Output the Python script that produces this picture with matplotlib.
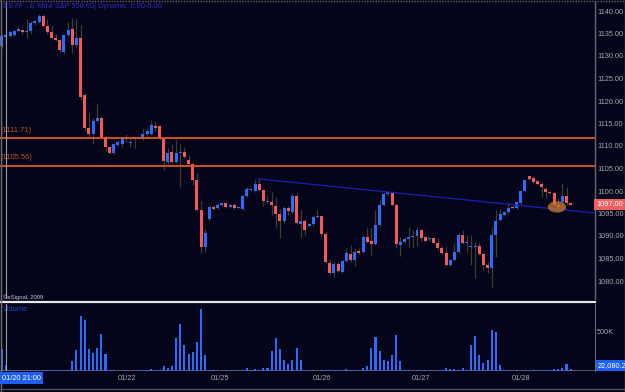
import matplotlib
matplotlib.use("Agg")
import matplotlib.pyplot as plt
from matplotlib.patches import Ellipse
from matplotlib.lines import Line2D
import matplotlib.transforms as mtransforms
import numpy as np

# ---------------- data ----------------
opens = [1132.25, 1134.25, 1134.5, 1134.75, 1135.5, 1135.75, 1135.25, 1135.5, 1137.25, 1137.5,
         1139, 1136.75, 1135.25, 1134, 1133.5, 1131, 1134.75, 1136, 1132.5, 1134,
         1121.25, 1114, 1112.75, 1115.5, 1116.25, 1112, 1109.75, 1108.5, 1110.25, 1110.5,
         1111.5, 1110.75, 1111.5, 1112, 1111.5, 1112.75, 1112.75, 1114.5, 1114.5, 1111.5,
         1106.5, 1108.75, 1106.5, 1108.5, 1108.75, 1107, 1106, 1102.5, 1095.75, 1087.5,
         1093.75, 1096.5, 1096.25, 1097, 1097.25, 1096.5, 1097, 1096.25, 1096, 1099,
         1100.25, 1100, 1101.5, 1100.25, 1097.5, 1097.5, 1096.75, 1095, 1093.25, 1096.25,
         1095.25, 1099, 1092.75, 1093.25, 1092.25, 1092.75, 1094.25, 1094.5, 1090.5, 1084,
         1081.75, 1083.75, 1082, 1084.5, 1086, 1084.75, 1086.75, 1086.5, 1089.75, 1089,
         1088.25, 1092.5, 1097, 1099.25, 1099.75, 1097, 1088, 1088.75, 1089.25, 1089.75,
         1090, 1091.25, 1089.75, 1089.25, 1089.5, 1088.5, 1087.25, 1086.25, 1083.5, 1084.75,
         1086.5, 1090.25, 1088.5, 1087.5, 1087.5, 1087.75, 1086, 1083.5, 1083, 1090.25,
         1093.5, 1094.75, 1095.25, 1096.5, 1096.25, 1097.25, 1100, 1103.25, 1103, 1102.25,
         1101.5, 1100.5, 1099.75, 1099.5, 1097, 1097.5, 1099, 1097.25]
highs = [1135, 1135, 1135.5, 1135.75, 1136.75, 1136, 1138.25, 1137.75, 1138, 1139.25,
         1139.25, 1138.25, 1137, 1135, 1133.75, 1135, 1137.5, 1138.5, 1138.25, 1137,
         1121.75, 1117.5, 1116.25, 1119.25, 1116.75, 1112.5, 1110, 1110.75, 1111.25, 1112.25,
         1112.75, 1111.75, 1112, 1112.25, 1114, 1114, 1115.5, 1115.5, 1114.75, 1111.75,
         1109.5, 1110.5, 1111.25, 1110.5, 1109.75, 1108, 1106.5, 1104, 1097.75, 1091.5,
         1096.75, 1097, 1097.25, 1097.5, 1097.5, 1097.25, 1097.25, 1096.75, 1099.25, 1101,
         1100.75, 1102.5, 1102.75, 1100.5, 1099, 1099.75, 1098.75, 1096, 1096.75, 1096.75,
         1099.5, 1099.5, 1095.75, 1093.75, 1093, 1094.75, 1095.75, 1094.75, 1091, 1085,
         1084.25, 1084.25, 1084.75, 1087.25, 1088, 1087.25, 1087.25, 1090.25, 1091.75, 1091.75,
         1095.75, 1098, 1099.75, 1100, 1100, 1097.25, 1089.75, 1089.75, 1092, 1091.25,
         1092, 1091.5, 1090, 1089.75, 1089.75, 1089.5, 1087.75, 1087.5, 1085, 1088.25,
         1090.75, 1091.25, 1090.25, 1090.25, 1088.75, 1088.5, 1086.5, 1084.25, 1091.75, 1095.75,
         1096, 1095.5, 1097.5, 1096.75, 1097.75, 1100.25, 1102.75, 1103.5, 1103.25, 1102.5,
         1102, 1101, 1100, 1100, 1098.5, 1101.75, 1101, 1097.25]
lows = [1131.75, 1134, 1134.25, 1134.5, 1135.25, 1135, 1134, 1135, 1137, 1137.25,
        1136.5, 1135, 1133.75, 1133.25, 1131, 1130.75, 1134.25, 1130.75, 1132, 1120.25,
        1113.25, 1111.75, 1110.5, 1115.25, 1111.75, 1109, 1108.25, 1108.25, 1110, 1109.75,
        1111, 1109.75, 1109.5, 1111.5, 1111.25, 1112, 1112.5, 1113.25, 1111.25, 1104.75,
        1106, 1106, 1106.25, 1101, 1107.25, 1105.75, 1101.25, 1095.5, 1086.25, 1086.5,
        1093.25, 1095.75, 1096, 1096.75, 1096.25, 1096.25, 1096, 1096, 1095.75, 1098.75,
        1100, 1099.75, 1100, 1096.75, 1097.25, 1094.75, 1091.75, 1089.5, 1093, 1094.75,
        1095, 1092.75, 1089.75, 1090.25, 1092, 1092.25, 1094, 1089.75, 1084, 1081.5,
        1081, 1082, 1081.75, 1084.25, 1084.25, 1083.25, 1086, 1086.25, 1088.5, 1085.75,
        1088, 1092.25, 1096.75, 1099, 1096.75, 1087.25, 1085.5, 1088.5, 1087.5, 1087.25,
        1087.75, 1089, 1088.75, 1089, 1088.25, 1087, 1086, 1083.25, 1083.25, 1084.5,
        1086.25, 1088.25, 1086.5, 1083.5, 1080.75, 1085.75, 1082.5, 1081.75, 1078.5, 1085.25,
        1093.25, 1094.5, 1095, 1096, 1096, 1097, 1099.75, 1102.5, 1101.75, 1101.25,
        1098.75, 1098.5, 1099.25, 1096.75, 1095.5, 1095.75, 1097, 1097]
closes = [1134.5, 1134.75, 1135.25, 1135.5, 1136, 1135.25, 1135.5, 1137.25, 1137.75, 1139,
          1136.75, 1135.25, 1134, 1133.5, 1131.25, 1134.75, 1135.75, 1132.5, 1134, 1121,
          1114, 1112.75, 1115.5, 1116.25, 1112, 1109.75, 1108.5, 1110.5, 1111, 1111.75,
          1111.5, 1110.75, 1112, 1111.75, 1112.75, 1113.25, 1114.75, 1114, 1111.5, 1106.75,
          1108.5, 1106.5, 1108.5, 1108.75, 1107.5, 1106, 1102.5, 1095.75, 1087.5, 1090.75,
          1096.5, 1096, 1097, 1097.25, 1096.5, 1097, 1096.25, 1096.5, 1099, 1100.5,
          1100.5, 1101.5, 1100.25, 1097.75, 1097.75, 1097, 1095, 1093.25, 1096.25, 1095.5,
          1099, 1093, 1093.25, 1091.25, 1092.75, 1094.25, 1094.5, 1090.5, 1084.25, 1081.75,
          1083.75, 1082.25, 1084.5, 1086.25, 1084.75, 1086.5, 1086.25, 1089.75, 1088.75, 1088.25,
          1092.5, 1097, 1099.25, 1099.75, 1097, 1088.25, 1088.75, 1089.25, 1089.75, 1090,
          1091.25, 1089.5, 1089, 1089.5, 1088.5, 1087.25, 1086.25, 1083.5, 1084.75, 1086.5,
          1090.25, 1088.5, 1088.75, 1087.75, 1087.75, 1086, 1083.5, 1083, 1090.25, 1093.25,
          1095, 1095.25, 1096.25, 1096.25, 1097.5, 1100, 1102.5, 1102.75, 1102, 1101.5,
          1101, 1099.75, 1099.5, 1097, 1096.5, 1099, 1097.25, 1097]
volumes = [278000, 73000, 9000, 7000, 8000, 6000, 10000, 8000, 7000, 9000,
           8000, 12000, 15000, 18000, 17000, 16000, 19000, 124000, 273000, 709000,
           649000, 278000, 235000, 295000, 478000, 214000, 8000, 10000, 5000, 6000,
           7000, 5000, 6000, 8000, 9000, 7000, 30000, 17000, 9000, 60000,
           43000, 60000, 423000, 598000, 329000, 214000, 243000, 371000, 798000, 200000,
           17000, 8000, 6000, 5000, 7000, 6000, 8000, 7000, 9000, 43000,
           17000, 21000, 9000, 38000, 38000, 252000, 427000, 278000, 137000, 85000,
           137000, 295000, 145000, 8000, 6000, 7000, 5000, 9000, 17000, 8000,
           7000, 9000, 8000, 30000, 17000, 15000, 9000, 34000, 68000, 299000,
           431000, 252000, 137000, 124000, 200000, 457000, 124000, 9000, 7000, 6000,
           8000, 5000, 7000, 9000, 6000, 8000, 7000, 38000, 21000, 21000,
           9000, 34000, 9000, 329000, 444000, 200000, 107000, 137000, 530000, 495000,
           73000, 9000, 7000, 6000, 8000, 6000, 7000, 5000, 8000, 9000,
           17000, 17000, 9000, 30000, 26000, 43000, 85000, 22080]

title_text = "ES #F - E-MINI S&P 500,60| Dynamic ,0:00-0:00"
price_ticks = [1080, 1085, 1090, 1095, 1100, 1105, 1110, 1115, 1120, 1125, 1130, 1135, 1140]
level_lines = [1111.71, 1105.56]
date_labels = ["01/22", "01/25", "01/26", "01/27", "01/28"]
date_label_bars = [31.2, 53.6, 78.1, 101.9, 126.0]
cursor_bar = 2
cursor_label = "01/20 21:00"
trend_bars = [62.7, 143.9]
trend_prices = [1102.7, 1095.1]
highlight_bar = 134.7
highlight_price = 1096.45
last_price = closes[-1]
last_volume_label = "22,080.2"

# ---------------- style ----------------
W, H = 625, 392
BG = "#04041a"
UP = "#2e6cf8"
DN = "#f25a5a"
WICK = "#403c2e"
GRID_TXT = "#a8a8a8"
FONT = ["Liberation Sans", "DejaVu Sans"]
plt.rcParams["font.family"] = FONT

fig = plt.figure(figsize=(W / 100, H / 100), dpi=100, facecolor=BG)

def fx(px):
    return px / W

def fy(py):
    return 1 - py / H

n = len(opens)
idx = np.arange(1, n + 1)
o = np.array(opens); c = np.array(closes); hi = np.array(highs); lo = np.array(lows)
up = c >= o

x_left = 1 + (0 - 1.7) / 4.153
x_right = 1 + (595 - 1.7) / 4.153

# price axes
axp = fig.add_axes([0, fy(299), fx(595), (299 - 2) / H], facecolor=BG)
axp.set_xlim(x_left, x_right)
axp.set_ylim(1140 - (299 - 11) / 4.5, 1140 + (11 - 2) / 4.5)

axp.vlines(idx, lo, hi, color=WICK, lw=0.9, zorder=2)
bottoms = np.minimum(o, c)
heights = np.maximum(np.abs(c - o), 0.22)
colors = [UP if u else DN for u in up]
axp.bar(idx, heights, bottom=bottoms, width=0.72, color=colors, linewidth=0, zorder=3)

for lv in level_lines:
    axp.axhline(lv, color="#e2561e", lw=1.3, zorder=4)
    axp.text(0.6, lv + 1.0, "(%.2f)" % lv, color="#b8561e", fontsize=5.4, va="bottom", ha="left")

axp.plot(trend_bars, trend_prices, color="#1c1ca8", lw=1.0, zorder=4)
axp.add_patch(Ellipse((highlight_bar, highlight_price), 4.4, 2.5, facecolor="#c87a30",
                      edgecolor="none", alpha=0.75, zorder=5))

axp.yaxis.tick_right()
axp.set_yticks(price_ticks)
axp.set_yticklabels(["%.2f" % t for t in price_ticks])
axp.tick_params(axis="y", length=0, pad=1.5, labelsize=5.3, labelcolor=GRID_TXT)
axp.set_xticks([])
for s in ["top", "left", "bottom"]:
    axp.spines[s].set_visible(False)
axp.spines["right"].set_color("#6a6a6a")
axp.spines["right"].set_linewidth(1)

axp.axvline(cursor_bar, color="#a0a0a0", lw=0.8, zorder=6)

tr = mtransforms.blended_transform_factory(axp.transAxes, axp.transData)
axp.text(1.002, last_price, "%.2f" % last_price, transform=tr, fontsize=5.3, color="#ffffff",
         va="center", ha="left",
         bbox=dict(boxstyle="square,pad=0.25", facecolor="#f06060", edgecolor="none"))

# volume axes
axv = fig.add_axes([0, fy(371), fx(595), (371 - 304) / H], facecolor=BG)
axv.set_xlim(x_left, x_right)
axv.set_ylim(0, (371 - 304) / 39 * 500000)
axv.bar(idx, volumes, width=0.5, color=UP, linewidth=0, zorder=3)
axv.axhline(0, color="#6a6a6a", lw=1.2, zorder=2)
axv.axvline(cursor_bar, color="#a0a0a0", lw=0.8, zorder=6)
axv.yaxis.tick_right()
axv.set_yticks([500000])
axv.set_yticklabels(["500K"])
axv.tick_params(axis="y", length=0, pad=1.5, labelsize=5.3, labelcolor=GRID_TXT)
axv.set_xticks(date_label_bars)
axv.set_xticklabels(date_labels)
axv.tick_params(axis="x", length=0, pad=3, labelsize=5.3, labelcolor=GRID_TXT)
for s in ["top", "left", "bottom"]:
    axv.spines[s].set_visible(False)
axv.spines["right"].set_color("#6a6a6a")
axv.text(0.005, 0.97, "Volume", transform=axv.transAxes, color="#2448c0", fontsize=5.4,
         va="top", ha="left")
trv = mtransforms.blended_transform_factory(axv.transAxes, axv.transData)
axv.text(1.004, volumes[-1], last_volume_label, transform=trv, fontsize=5.3, color="#ffffff",
         va="bottom", ha="left", clip_on=False,
         bbox=dict(boxstyle="square,pad=0.25", facecolor="#1f5ff0", edgecolor="none"))

# figure-level decorations
fig.text(fx(3), fy(7), title_text, color="#2c2cc4", fontsize=5.3, va="center", ha="left")
fig.text(fx(3), fy(297), "\u00a9eSignal, 2009", color="#c8c8c8", fontsize=4.2, va="center", ha="left")
fig.text(fx(2), fy(378), cursor_label, color="#ffffff", fontsize=5.3, va="center", ha="left",
         bbox=dict(boxstyle="square,pad=0.3", facecolor="#1f5ff0", edgecolor="none"))
fig.add_artist(Line2D([0, fx(595)], [fy(301.5), fy(301.5)], color="#e8e8e8", lw=1.6))
fig.add_artist(Line2D([0, 1], [fy(1), fy(1)], color="#6a6060", lw=1, ls=(0, (1, 1))))
fig.add_artist(Line2D([fx(0.5), fx(0.5)], [0, 1], color="#707070", lw=1))
fig.add_artist(Line2D([0, 1], [fy(389), fy(389)], color="#505050", lw=1))
fig.add_artist(Line2D([fx(624.5), fx(624.5)], [0, 1], color="#707070", lw=1))

fig.savefig("out.png", dpi=100, facecolor=BG)
